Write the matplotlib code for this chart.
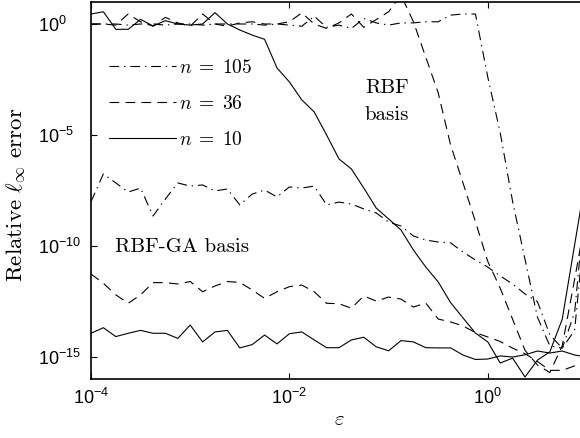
import numpy as np
import matplotlib
matplotlib.use('Agg')
import matplotlib.pyplot as plt

# ---------------------------------------------------------------------------
# Data: log10 of the relative max-norm error
# eps grid: 8 points per decade from 1e-4 to 1e1
# ---------------------------------------------------------------------------

eps = np.logspace(-4, 1, 41)

# RBF basis (direct)
rbf_n10 = [0.45, 0.55, -0.24, -0.24, 0.21, -0.09, 0.15, 0.0, -0.05, 0.0,
           0.51, 0.0, -0.27, -0.5, -0.69, -1.98, -2.61, -3.42, -3.96, -5.0,
           -6.08, -6.53, -7.39, -8.29, -8.78, -9.28, -10.18, -10.95, -11.62, -12.55,
           -13.24, -13.92, -14.32, -15.27, -15.05, -15.9, -15.14, -14.77, -13.3, -9.95,
           -6.6]
rbf_n36 = [0.0, 0.0, -0.05, 0.45, 0.1, -0.1, 0.3, 0.05, -0.1, 0.45,
           0.0, -0.1, 0.05, 0.1, 0.0, 0.0, 0.1, 0.5, 0.0, -0.2,
           0.05, 0.45, -0.15, 0.2, 0.55, 1.3, 0.1, -1.5, -3.1, -5.45,
           -7.16, -8.9, -10.7, -11.9, -13.3, -14.7, -15.36, -15.7, -14.5, -11.5,
           -8.4]
rbf_n105 = [0.0, 0.0, 0.0, -0.05, 0.0, 0.0, -0.05, 0.0, 0.0, -0.05,
            0.0, 0.0, 0.0, 0.0, -0.05, 0.0, -0.05, -0.1, 0.35, -0.15,
            -0.05, -0.2, 0.25, 0.05, -0.05, 0.05, 0.05, 0.1, 0.1, 0.4,
            0.45, 0.45, -2.4, -4.9, -8.0, -10.6, -13.2, -14.5, -14.6, -13.0,
            -7.0]

# RBF-GA basis
ga_n10 = [-13.93, -13.68, -14.08, -13.93, -13.80, -13.93, -13.93, -14.16, -13.56, -14.32,
          -13.87, -13.80, -14.59, -14.44, -14.01, -14.41, -13.95, -13.87, -14.23, -14.58,
          -14.58, -14.23, -14.11, -14.54, -14.72, -14.26, -14.32, -14.58, -14.59, -14.59,
          -14.91, -15.11, -15.09, -14.95, -15.0, -14.9, -14.73, -14.82, -14.73, -14.91,
          -15.0]
ga_n36 = [-11.26, -11.68, -12.2, -12.58, -12.2, -11.65, -11.65, -11.71, -11.6, -12.06,
          -11.8, -11.6, -11.64, -11.98, -12.36, -12.06, -11.83, -11.76, -12.06, -12.58,
          -12.6, -12.8, -12.25, -12.48, -12.3, -12.39, -12.75, -12.57, -13.29, -13.42,
          -13.6, -13.9, -14.1, -14.3, -14.6, -14.85, -15.2, -15.6, -15.6, -15.4,
          -15.2]
ga_n105 = [-8.0, -6.75, -7.16, -7.57, -7.39, -8.65, -7.88, -7.16, -7.3, -7.25,
           -7.52, -7.43, -8.15, -7.66, -7.48, -7.79, -7.34, -7.39, -7.3, -8.15,
           -8.02, -8.11, -8.33, -8.51, -8.92, -9.1, -9.55, -9.73, -9.82, -9.86,
           -10.27, -10.63, -10.95, -11.35, -11.71, -12.16, -12.5, -14.0, -14.6, -13.8,
           -8.0]

STYLES = {
    10: dict(linestyle='-'),
    36: dict(linestyle=(0, (7, 4.5))),
    105: dict(linestyle=(0, (7, 3.5, 1, 3.5))),
}

# ---------------------------------------------------------------------------
# Plot
# ---------------------------------------------------------------------------

plt.rcParams['font.family'] = ['Liberation Sans', 'DejaVu Sans']
plt.rcParams['mathtext.fontset'] = 'cm'
plt.rcParams['lines.scale_dashes'] = False

fig = plt.figure(figsize=(5.8, 4.38), dpi=100)
ax = fig.add_axes([0.1569, 0.1342, 0.8552, 0.8617])

lw = 0.8
handles = {}
for n, rbf, ga in [(105, rbf_n105, ga_n105), (36, rbf_n36, ga_n36), (10, rbf_n10, ga_n10)]:
    h, = ax.plot(eps, 10.0 ** np.array(rbf), color='black', lw=lw, **STYLES[n])
    ax.plot(eps, 10.0 ** np.array(ga), color='black', lw=lw, **STYLES[n])
    handles[n] = h

ax.set_xscale('log')
ax.set_yscale('log')
ax.set_xlim(1e-4, 1e1)
ax.set_ylim(1e-16, 1e1)
ax.set_xticks([1e-4, 1e-2, 1e0])
ax.set_yticks([1e-15, 1e-10, 1e-5, 1e0])
ax.minorticks_off()
ax.tick_params(direction='in', length=4, width=0.8, labelsize=13,
               top=True, right=True)
ax.tick_params(axis='x', pad=6)
ax.tick_params(axis='y', pad=38)
for lab in ax.get_yticklabels():
    lab.set_horizontalalignment('left')
for sp in ax.spines.values():
    sp.set_linewidth(1.2)

cm = dict(family='cmr10')
ax.set_xlabel(r'$\varepsilon$', fontsize=15, labelpad=2)
ax.set_ylabel(r'Relative $\ell_\infty$ error', fontsize=16.5, **cm)
ax.yaxis.set_label_coords(-0.128, 0.488)

leg = ax.legend([handles[105], handles[36], handles[10]],
                [r'$n\;=\;105$', r'$n\;=\;36$', r'$n\;=\;10$'],
                loc='upper left', bbox_to_anchor=(0.002, 0.894), frameon=False,
                fontsize=14, handlelength=3.4, handletextpad=0.2, labelspacing=0.92)

ax.text(0.0575, 10 ** -2.9, 'RBF', fontsize=15, ha='left', va='center', **cm)
ax.text(0.0575, 10 ** -4.1, 'basis', fontsize=15, ha='left', va='center', **cm)
ax.text(1.75e-4, 10 ** -10.05, 'RBF-GA basis', fontsize=15, ha='left', va='center', **cm)

fig.savefig('out.png', dpi=100)
